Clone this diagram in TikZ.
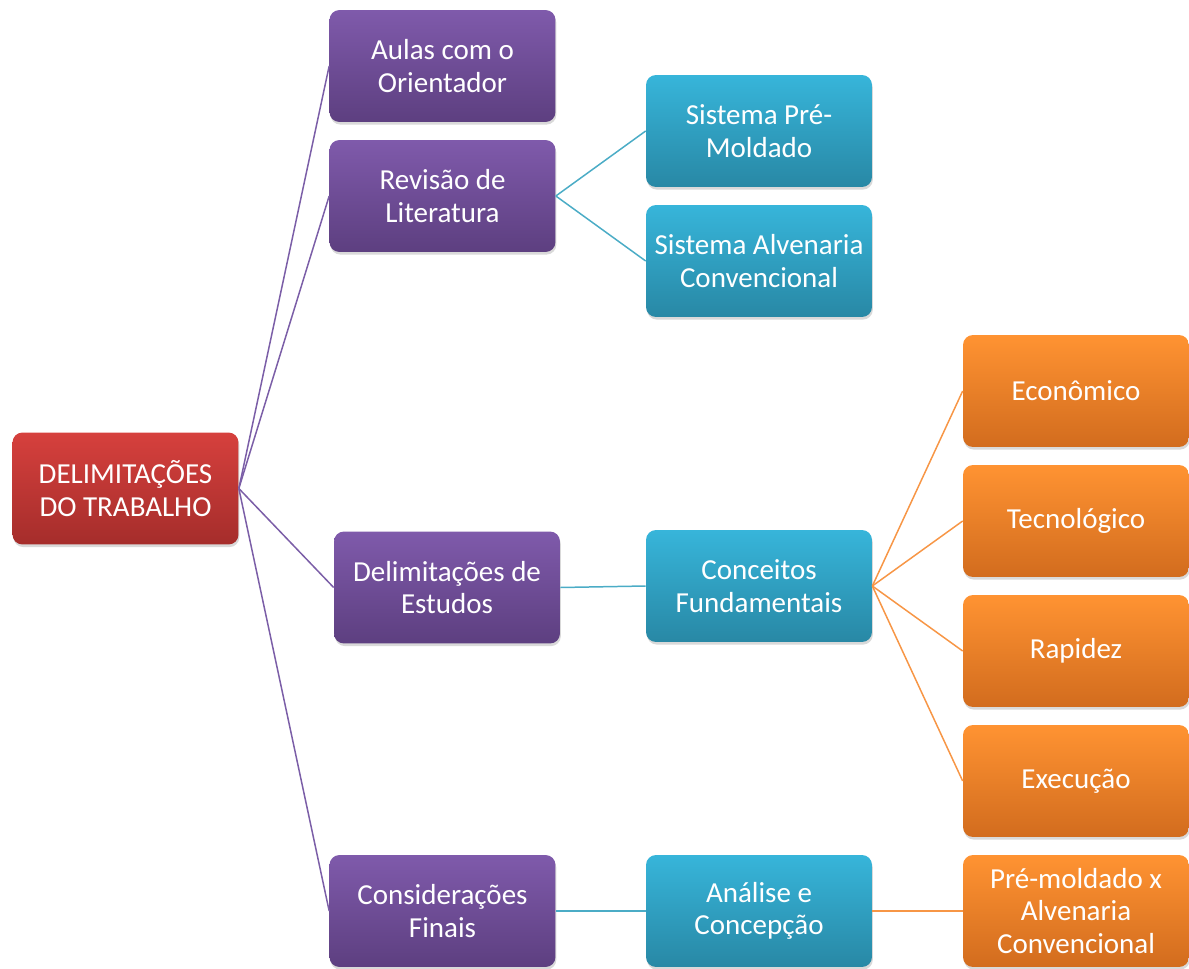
\documentclass[tikz,border=0pt]{standalone}
\usepackage{fontspec}
\setmainfont{Carlito}
\usetikzlibrary{shadows}
\definecolor{redtop}{HTML}{D6403D}
\definecolor{redbot}{HTML}{A52D2B}
\definecolor{purtop}{HTML}{7F5AAB}
\definecolor{purbot}{HTML}{5D3F80}
\definecolor{blutop}{HTML}{37B5DA}
\definecolor{blubot}{HTML}{2888A5}
\definecolor{orgtop}{HTML}{FF9332}
\definecolor{orgbot}{HTML}{D26C1E}
\definecolor{purline}{HTML}{7B5EA7}
\definecolor{bluline}{HTML}{4BACC6}
\definecolor{orgline}{HTML}{F79646}
\begin{document}
\begin{tikzpicture}[x=0.02cm,y=-0.02cm,
    box/.style={rounded corners=0.2cm, minimum width=4.52cm, minimum height=2.24cm,
      inner sep=0.06cm, align=center, text=white,
      font=\fontsize{16.5}{18.4}\selectfont,
      drop shadow={shadow xshift=0.5pt, shadow yshift=-1.5pt, opacity=0.3}},
    rootbox/.style={box, top color=redtop, bottom color=redbot},
    purbox/.style={box, top color=purtop, bottom color=purbot},
    blubox/.style={box, top color=blutop, bottom color=blubot},
    orgbox/.style={box, top color=orgtop, bottom color=orgbot},
    link/.style={line width=0.85pt}]
    \useasboundingbox (0,0) rectangle (1189,969);
    % root
    \node[rootbox] (root) at (125.5,488.5) {DELIMITAÇÕES\\DO TRABALHO};
    % first level
    \node[purbox] (aulas) at (442.5,66) {Aulas com o\\Orientador};
    \node[purbox] (revisao) at (442.5,196) {Revisão de\\Literatura};
    \node[purbox] (delim) at (447,587.5) {Delimitações de\\Estudos};
    \node[purbox] (consid) at (442.5,911) {Considerações\\Finais};
    % second level
    \node[blubox] (premold) at (759,131) {Sistema Pré-\\Moldado};
    \node[blubox] (alven) at (759,261) {Sistema Alvenaria\\Convencional};
    \node[blubox] (conceitos) at (759,586) {Conceitos\\Fundamentais};
    \node[blubox] (analise) at (759,911) {Análise e\\Concepção};
    % third level
    \node[orgbox] (econ) at (1076,391) {Econômico};
    \node[orgbox] (tecno) at (1076,521) {Tecnológico};
    \node[orgbox] (rapidez) at (1076,651) {Rapidez};
    \node[orgbox] (execucao) at (1076,781) {Execução};
    \node[orgbox] (compara) at (1076,911) {Pré-moldado x\\Alvenaria\\Convencional};
    % connectors
    \foreach \n in {aulas,revisao,delim,consid}
        {\draw[link, purline] (root.east) -- (\n.west);}
    \foreach \n in {premold,alven}
        {\draw[link, bluline] (revisao.east) -- (\n.west);}
    \draw[link, bluline] (delim.east) -- (conceitos.west);
    \draw[link, bluline] (consid.east) -- (analise.west);
    \foreach \n in {econ,tecno,rapidez,execucao}
        {\draw[link, orgline] (conceitos.east) -- (\n.west);}
    \draw[link, orgline] (analise.east) -- (compara.west);
\end{tikzpicture}
\end{document}
